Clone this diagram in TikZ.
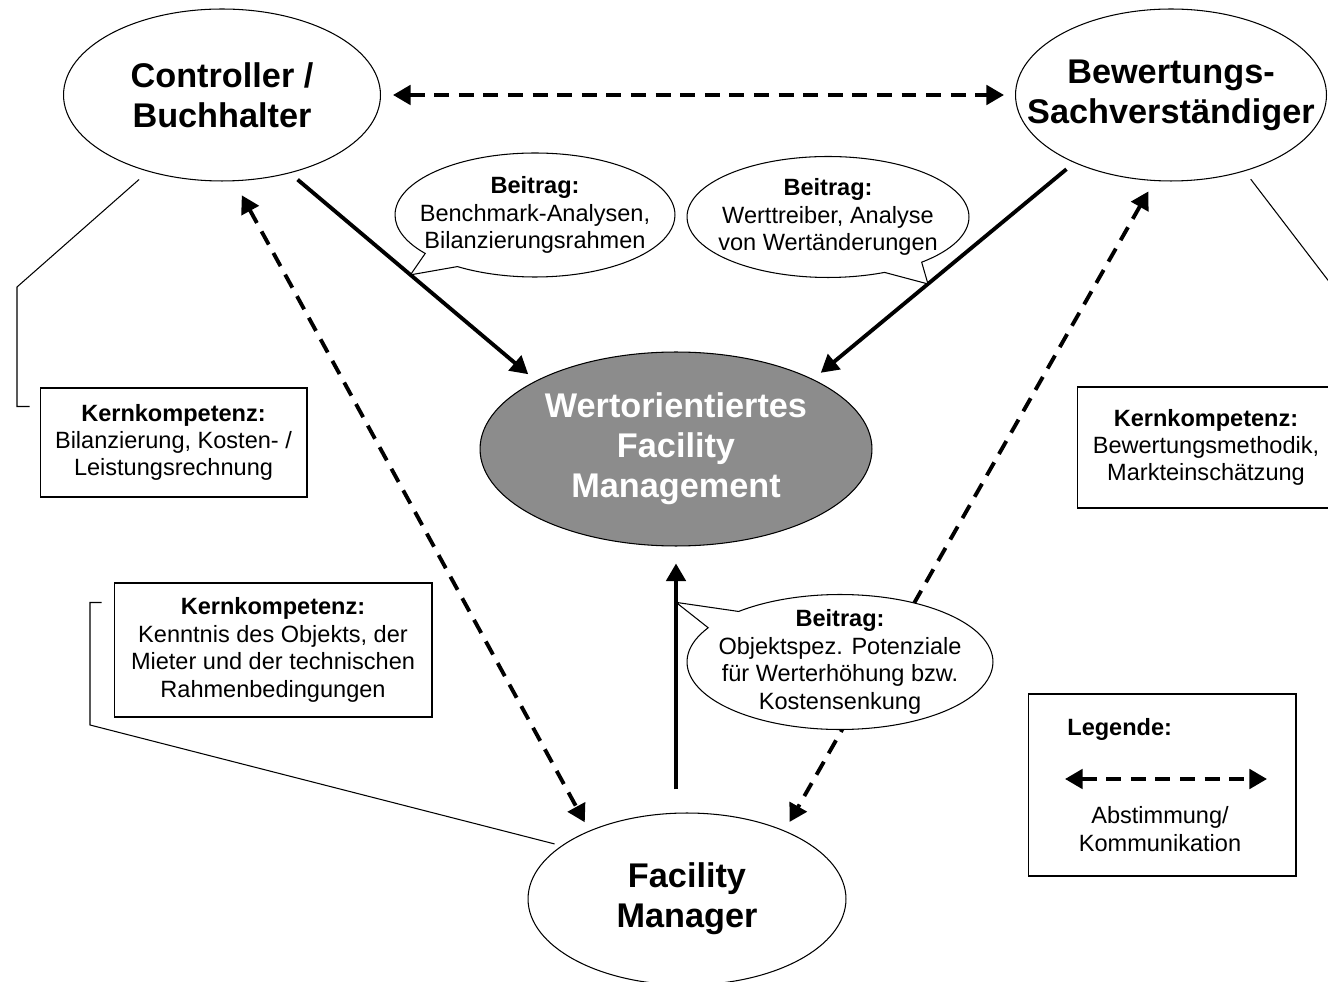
\documentclass[tikz,border=0pt]{standalone}
\usepackage{fontspec}
\setmainfont{Liberation Sans}
\usepackage{tikz}
\usetikzlibrary{calc,shapes.geometric,shapes.callouts,arrows.meta}
\newcommand{\bigtxt}{\fontsize{19.5pt}{22.7pt}\selectfont}
\newcommand{\smalltxt}{\fontsize{13.4pt}{15.6pt}\selectfont}

\begin{document}
    \begin{tikzpicture}[x=0.02cm,y=-0.02cm,
        role/.style={ellipse,draw,line width=0.6pt,inner sep=0pt,minimum width=6.34cm,minimum height=3.44cm,font=\bigtxt\bfseries,align=center},
        kbox/.style={rectangle,draw,line width=0.6pt,font=\smalltxt,align=center},
        beitrag/.style={ellipse callout,draw,fill=white,line width=0.6pt,inner xsep=-14pt,inner ysep=-6pt,callout pointer arc=18,font=\smalltxt,align=center},
        flow/.style={line width=2.2pt,-{Triangle[length=10pt,width=11pt]}},
        comm/.style={line width=2.2pt,dash pattern=on 8.5pt off 5.5pt,{Triangle[length=10pt,width=11pt]}-{Triangle[length=10pt,width=11pt]}},
        thinlink/.style={line width=0.6pt}]
        \useasboundingbox (0,0) rectangle (1328,982);
        \node[role] (ctrl) at (222,95) {Controller /\\Buchhalter};
        \node[role,minimum width=6.22cm,inner xsep=-22pt] (bew) at (1171,95) {Bewertungs-\\Sachverständiger};
        \node[role,minimum width=7.84cm,minimum height=3.88cm,fill=black!45,text=white] (wfm) at (676,449) {Wertorientiertes\\Facility\\Management};
        \node[role,minimum width=6.36cm] (fm) at (687,899) {Facility\\Manager};
        \node[kbox,minimum width=5.34cm,minimum height=2.18cm] (kkc) at (173.5,442.5) {\textbf{Kernkompetenz:}\\Bilanzierung, Kosten- /\\Leistungsrechnung};
        \node[kbox,minimum width=5.16cm,minimum height=2.42cm] (kkb) at (1206,447.5) {\textbf{Kernkompetenz:}\\Bewertungsmethodik,\\Markteinschätzung};
        \node[kbox,minimum width=6.36cm,minimum height=2.68cm] (kkf) at (273,650) {\textbf{Kernkompetenz:}\\Kenntnis des Objekts, der\\Mieter und der technischen\\Rahmenbedingungen};
        \node[kbox,minimum width=5.36cm,minimum height=3.64cm] (leg) at (1162,785) {};
        \draw[comm,shorten <=0.24cm,shorten >=0.22cm] (ctrl.east) -- (bew.west);
        \draw[comm,shorten <=0.32cm,shorten >=0.19cm] (ctrl.-82) -- (fm.145);
        \draw[comm,shorten <=0.24cm,shorten >=0.2cm] (bew.-101) -- (fm.35);
        \draw[flow,shorten <=0.2cm,shorten >=0.2cm] (ctrl.-49) -- coordinate[pos=0.49] (tipc) (wfm.154);
        \draw[flow,shorten <=0.2cm,shorten >=0.2cm] (bew.-145) -- coordinate[pos=0.56] (tipb) (wfm.27);
        \draw[flow,shorten <=0.46cm,shorten >=0.34cm] (fm.north -| wfm.south) -- coordinate[pos=0.79] (tipf) (wfm.south);
        \draw[thinlink,shorten <=0.24cm] (ctrl.-134) -- (17,287) |- ([xshift=-0.2cm,yshift=-0.38cm]kkc.north west);
        \coordinate (bewend) at (1350,309);
        \draw[thinlink,shorten <=0.2cm] (bew.-46) -- (bewend);
        \draw[thinlink,shorten <=0.14cm] (fm.157) -- (90,725) |- ([xshift=-0.24cm,yshift=-0.4cm]kkf.north west);
        \node[beitrag,minimum width=5.6cm,minimum height=2.48cm,callout absolute pointer={(tipc)}] (btc) at (535,215) {\textbf{Beitrag:}\\Benchmark-Analysen,\\Bilanzierungsrahmen};
        \node[beitrag,minimum width=5.64cm,minimum height=2.42cm,callout absolute pointer={(tipb)}] (btb) at (828,217) {\textbf{Beitrag:}\\Werttreiber, Analyse\\von Wertänderungen};
        \node[beitrag,minimum width=6.12cm,minimum height=2.7cm,callout absolute pointer={(tipf)}] (btf) at (840,662) {\textbf{Beitrag:}\\Objektspez. Potenziale\\für Werterhöhung bzw.\\Kostensenkung};
        \node[font=\smalltxt\bfseries,anchor=base west,inner sep=0pt] (leghead) at (1067,735) {Legende:};
        \coordinate (legl) at (1065,779);
        \coordinate (legr) at (1267,779);
        \draw[comm] (legl) -- (legr);
        \node[font=\smalltxt,align=center] (legtxt) at (1160,829) {Abstimmung/\\Kommunikation};
    \end{tikzpicture}
\end{document}
